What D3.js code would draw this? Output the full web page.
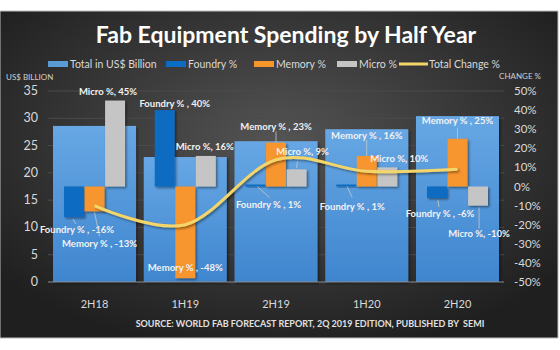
<!DOCTYPE html>
<meta charset="utf-8">
<style>
  body { margin: 0; background: #fff; }
  text { font-family: Lato, "Open Sans", sans-serif; }
  .tick-l, .tick-r, .xlab { fill: #d9d9d9; font-size: 12px; }
  .legend text { fill: #d9d9d9; font-size: 10.5px; }
  .dlabel { fill: #f2f2f2; font-size: 9.5px; font-weight: bold; text-anchor: middle; }
  .leader { stroke: #c8c8c8; stroke-width: 0.8; }
</style>
<script src="https://d3js.org/d3.v7.min.js"></script>
<div id="chart"></div>
<script>
// data
var periods = ["2H18", "1H19", "2H19", "1H20", "2H20"];
var totalBillion = [28.6, 22.9, 25.8, 28.0, 30.4];
var foundryPct = [-16, 40, 1, 1, -6];
var memoryPct = [-13, -48, 23, 16, 25];
var microPct = [45, 16, 9, 10, -10];
var totalChangePct = [-10, -20, 14, 8, 9];
var leftTicks = [0, 5, 10, 15, 20, 25, 30, 35];
var rightTicks = [-50, -40, -30, -20, -10, 0, 10, 20, 30, 40, 50];
var segNames = ["Foundry %", "Memory %", "Micro %"];

// label layout: offset of label centre from (bar centre, bar end); leader offsets [x1,y1,x2,y2] or null
var labelLayout = {
  "Foundry %": [[3, 12, [-1, 2, 2, 7]], [10, -7, null], [13, 20, [2, 2, 14, 13]], [6, 22, [1, 2, 6, 13]], [3, 16, [1, 2, 2, 9]]],
  "Memory %": [[5, 32, [0, 1, 5, 25]], [0, -11, null], [0, -16.5, [0, -11, 0, 0]], [0, -20, [0, -16, 0, 0]], [0, -18, [0, -11, 0, 0]]],
  "Micro %": [[-7, -9.5, null], [-1, -9, null], [6, -18, [1, -8, 0, -1]], [12, -9, null], [1, 28, [1, 2, 1, 23]]]
};

var W = 560, H = 350;
var svg = d3.select("#chart").append("svg").attr("width", W).attr("height", H);
var defs = svg.append("defs");

var bg = defs.append("radialGradient").attr("id", "bg").attr("cx", "50%").attr("cy", "40%").attr("r", "65%");
bg.append("stop").attr("offset", "0%").attr("stop-color", "#545454");
bg.append("stop").attr("offset", "100%").attr("stop-color", "#1f1f1f");

var tg = defs.append("linearGradient").attr("id", "tot").attr("x1", 0).attr("x2", 0).attr("y1", 0).attr("y2", 1);
tg.append("stop").attr("offset", "0%").attr("stop-color", "#67a7e4");
tg.append("stop").attr("offset", "100%").attr("stop-color", "#3f86cf");

var sh = defs.append("filter").attr("id", "shadow").attr("x", "-20%").attr("y", "-20%").attr("width", "150%").attr("height", "150%");
sh.append("feDropShadow").attr("dx", 1.5).attr("dy", 1.5).attr("stdDeviation", 1.2).attr("flood-color", "#000").attr("flood-opacity", 0.45);

// background panel
svg.append("rect").attr("x", 0).attr("y", 11).attr("width", 558).attr("height", 327)
  .attr("fill", "url(#bg)").attr("stroke", "#bdbdbd").attr("stroke-width", 1);

// scales
var x = d3.scaleBand().domain(periods).range([48, 504]).paddingInner(0.085).paddingOuter(0.055);
var yL = d3.scaleLinear().domain([0, 35]).range([282, 91]);
var yR = d3.scaleLinear().domain([-50, 50]).range([282, 91]);
var xs = d3.scaleBand().domain(segNames).range([-30.5, 30.5]).paddingInner(0.03);
var colors = { "Foundry %": "#0c6cc2", "Memory %": "#f7952d", "Micro %": "#c5c5c5" };

// gridlines
svg.append("g").selectAll("line").data(leftTicks.slice(1)).enter().append("line")
  .attr("x1", 48).attr("x2", 504).attr("y1", function(d) { return yL(d); }).attr("y2", function(d) { return yL(d); })
  .attr("stroke", "#4b4b4b").attr("stroke-width", 1);

// left axis labels
svg.append("g").selectAll("text").data(leftTicks).enter().append("text")
  .attr("class", "tick-l").attr("x", 38).attr("y", function(d) { return yL(d) + 4; })
  .attr("text-anchor", "end").style("font-size", "12.5px").text(function(d) { return d; });

// right axis labels
svg.append("g").selectAll("text").data(rightTicks).enter().append("text")
  .attr("class", "tick-r").attr("x", 514).attr("y", function(d) { return yR(d) + 4; })
  .style("font-size", "11.5px").text(function(d) { return d + "%"; });

svg.append("text").attr("x", 6).attr("y", 80).attr("fill", "#cfcfcf").style("font-size", "8px").text("US$ BILLION");
svg.append("text").attr("x", 541).attr("y", 79).attr("text-anchor", "end").attr("fill", "#cfcfcf").style("font-size", "8px").text("CHANGE %");

// total bars
svg.append("g").selectAll("rect").data(periods).enter().append("rect")
  .attr("x", function(d) { return x(d); })
  .attr("y", function(d, i) { return yL(totalBillion[i]); })
  .attr("width", x.bandwidth())
  .attr("height", function(d, i) { return yL(0) - yL(totalBillion[i]); })
  .attr("fill", "url(#tot)").attr("filter", "url(#shadow)");

// baseline
svg.append("line").attr("x1", 48).attr("x2", 504).attr("y1", yL(0)).attr("y2", yL(0))
  .attr("stroke", "#8a8a8a").attr("stroke-width", 1);

// segment bars (floating from 0%)
var segData = { "Foundry %": foundryPct, "Memory %": memoryPct, "Micro %": microPct };
function cx(i, s) { return x(periods[i]) + x.bandwidth() / 2 + xs(s) + xs.bandwidth() / 2; }

segNames.forEach(function(s) {
  svg.append("g").selectAll("rect").data(segData[s]).enter().append("rect")
    .attr("x", function(d, i) { return x(periods[i]) + x.bandwidth() / 2 + xs(s); })
    .attr("y", function(d) { return Math.min(yR(d), yR(0)); })
    .attr("width", xs.bandwidth())
    .attr("height", function(d) { return Math.max(1.5, Math.abs(yR(d) - yR(0))); })
    .attr("fill", colors[s]).attr("filter", "url(#shadow)");
});

// total change line
var line = d3.line()
  .x(function(d, i) { return x(periods[i]) + x.bandwidth() / 2; })
  .y(function(d) { return yR(d); })
  .curve(d3.curveCardinal.tension(0));
svg.append("path").datum(totalChangePct).attr("d", line)
  .attr("fill", "none").attr("stroke", "#f4d56a").attr("stroke-width", 3)
  .attr("filter", "url(#shadow)");

// data labels
var lab = svg.append("g");
segNames.forEach(function(s) {
  segData[s].forEach(function(v, i) {
    var L = labelLayout[s][i];
    var bx = cx(i, s), by = yR(v);
    if (L[2]) {
      lab.append("line").attr("class", "leader")
        .attr("x1", bx + L[2][0]).attr("y1", by + L[2][1])
        .attr("x2", bx + L[2][2]).attr("y2", by + L[2][3]);
    }
    var sep = s === "Micro %" ? ", " : " , ";
    lab.append("text").attr("class", "dlabel")
      .attr("x", bx + L[0]).attr("y", by + L[1] + 3.5)
      .text(s + sep + v + "%");
  });
});

// x labels
svg.append("g").selectAll("text").data(periods).enter().append("text")
  .attr("class", "xlab").attr("x", function(d) { return x(d) + x.bandwidth() / 2; }).attr("y", 308)
  .attr("text-anchor", "middle").style("font-size", "11px").text(function(d) { return d; });

// title
svg.append("text").attr("x", 286).attr("y", 43).attr("text-anchor", "middle")
  .attr("fill", "#ffffff").style("font-size", "23px").style("font-weight", "bold")
  .text("Fab Equipment Spending by Half Year");

// legend
var legendItems = [
  { name: "Total in US$ Billion", color: "#5b9bd5", x: 48, type: "rect" },
  { name: "Foundry %", color: colors["Foundry %"], x: 166, type: "rect" },
  { name: "Memory %", color: colors["Memory %"], x: 254, type: "rect" },
  { name: "Micro %", color: colors["Micro %"], x: 337, type: "rect" },
  { name: "Total Change %", color: "#f4d56a", x: 399, type: "line" }
];
var lg = svg.append("g").attr("class", "legend");
legendItems.forEach(function(it) {
  if (it.type === "rect") {
    lg.append("rect").attr("x", it.x).attr("y", 61).attr("width", 20).attr("height", 6).attr("fill", it.color);
  } else {
    lg.append("line").attr("x1", it.x).attr("x2", it.x + 29).attr("y1", 64).attr("y2", 64)
      .attr("stroke", it.color).attr("stroke-width", 3);
  }
  lg.append("text").attr("x", it.x + (it.type === "rect" ? 22 : 30)).attr("y", 68).text(it.name);
});

// source
svg.append("text").attr("x", 310).attr("y", 327).attr("text-anchor", "middle")
  .attr("fill", "#e0e0e0").style("font-size", "9px").style("font-weight", "bold").style("white-space", "pre")
  .text("SOURCE: WORLD FAB FORECAST REPORT, 2Q 2019 EDITION, PUBLISHED BY  SEMI");
</script>
